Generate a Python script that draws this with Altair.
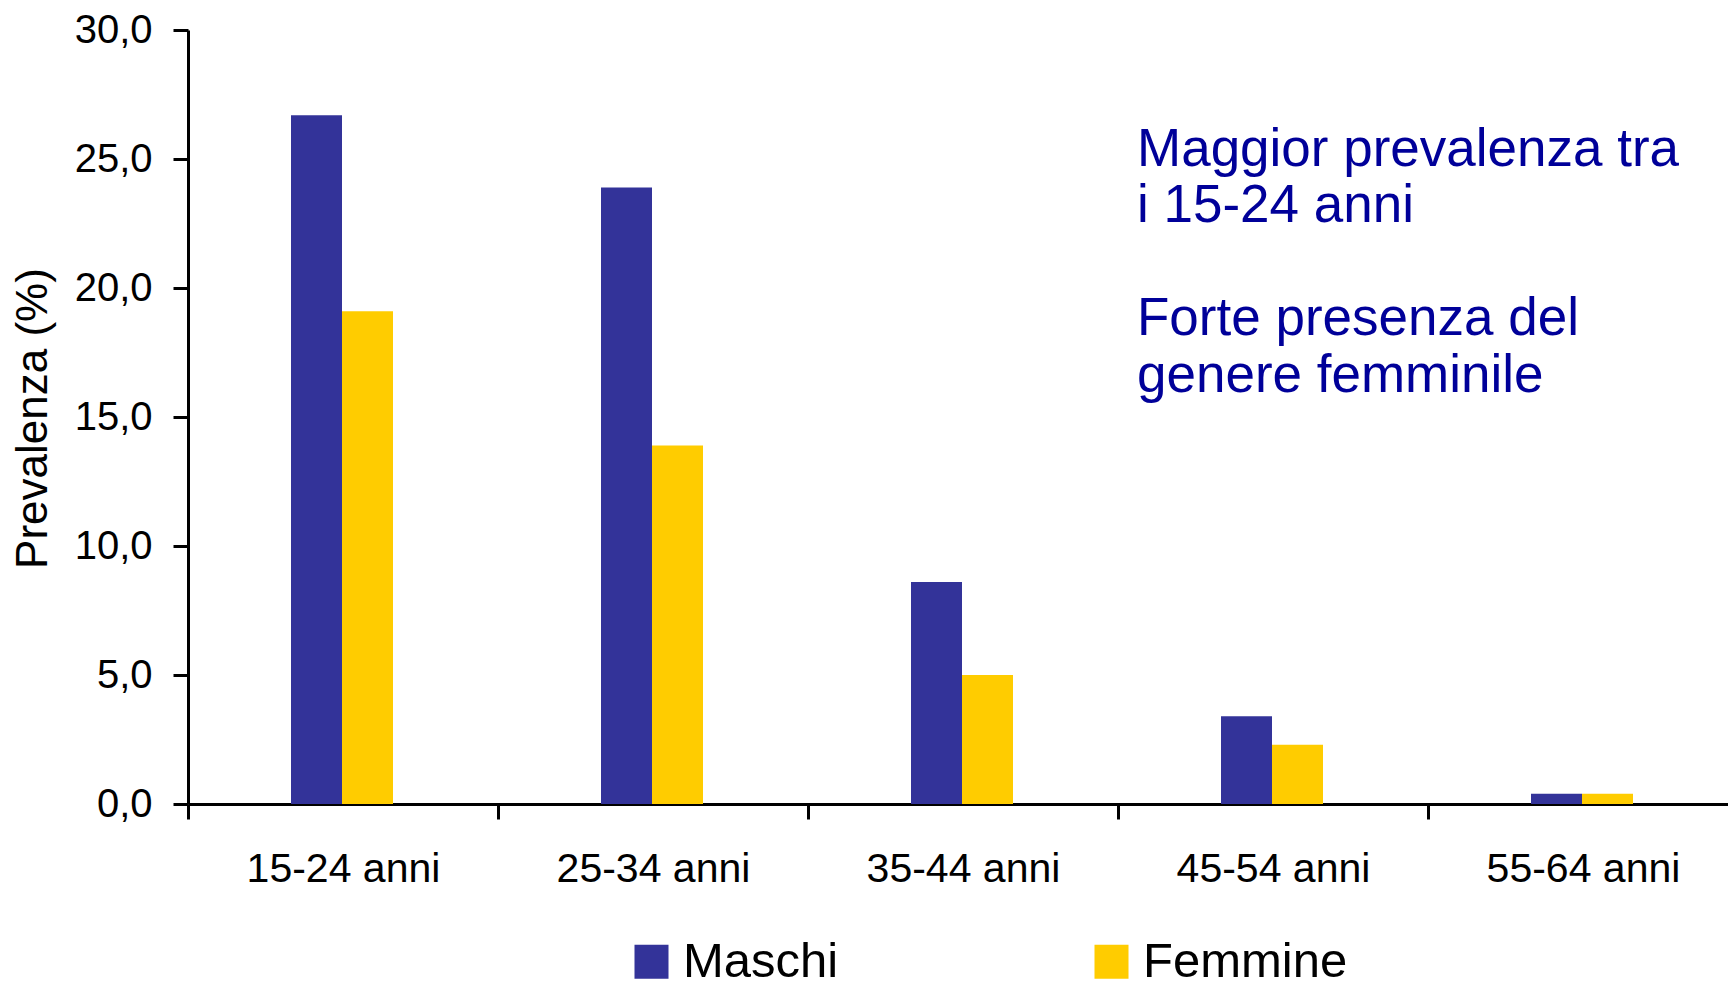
import altair as alt
import pandas as pd

FONT = "Liberation Sans, Arial, sans-serif"

categories = ["15-24 anni", "25-34 anni", "35-44 anni", "45-54 anni", "55-64 anni"]
series = ["Maschi", "Femmine"]
maschi = [26.7, 23.9, 8.6, 3.4, 0.4]
femmine = [19.1, 13.9, 5.0, 2.3, 0.4]
colors = ["#333399", "#FFCC00"]
y_ticks = [0, 5, 10, 15, 20, 25, 30]
note_block_1 = ["Maggior prevalenza tra", "i 15-24 anni"]
note_block_2 = ["Forte presenza del", "genere femminile"]

df = pd.DataFrame({
    "Età": categories * 2,
    "Genere": [series[0]] * len(categories) + [series[1]] * len(categories),
    "Prevalenza": maschi + femmine,
})

bars = alt.Chart(df).mark_bar().encode(
    x=alt.X(
        "Età:N", sort=categories,
        scale=alt.Scale(paddingInner=0, paddingOuter=0, range=[0, 1550]),
        axis=alt.Axis(
            title=None, labelAngle=0, tickBand="extent", labelLimit=0,
            labelFontSize=41, labelFont=FONT, labelColor="black", labelPadding=30,
            tickSize=15, tickWidth=3, tickColor="black",
            domainWidth=3, domainColor="black", grid=False,
        ),
    ),
    xOffset=alt.XOffset(
        "Genere:N", sort=series,
        scale=alt.Scale(paddingInner=0, paddingOuter=0, range=[103, 205]),
    ),
    y=alt.Y(
        "Prevalenza:Q",
        scale=alt.Scale(domain=[0, 30], nice=False, zero=True),
        axis=alt.Axis(
            values=y_ticks,
            labelExpr="replace(format(datum.value, '.1f'), '.', ',')",
            title="Prevalenza (%)", titleFontSize=44, titleFont=FONT, titleFontWeight="normal",
            titleColor="black", titleX=-155, titleY=388, titleAngle=270,
            titleAlign="center", titleBaseline="middle",
            labelFontSize=40, labelFont=FONT, labelColor="black", labelPadding=21,
            tickSize=15, tickWidth=3, tickColor="black",
            domainWidth=3, domainColor="black", grid=False,
        ),
    ),
    color=alt.Color(
        "Genere:N", sort=series,
        scale=alt.Scale(domain=series, range=colors),
        legend=alt.Legend(
            title=None, orient="none", legendX=439, legendY=907,
            direction="horizontal",
            symbolType="square", symbolSize=1156,
            symbolStrokeWidth=0, symbolOpacity=1,
            labelFontSize=49, labelFont=FONT, labelColor="black", labelLimit=0,
            labelOffset=7, columnPadding=248, padding=0,
        ),
    ),
)

note1 = alt.Chart(alt.Data(values=[{}])).mark_text(
    text=note_block_1, align="left", baseline="alphabetic",
    fontSize=53, lineHeight=56, color="#000099", font=FONT,
).encode(x=alt.value(949), y=alt.value(136))

note2 = alt.Chart(alt.Data(values=[{}])).mark_text(
    text=note_block_2, align="left", baseline="alphabetic",
    fontSize=53, lineHeight=57, color="#000099", font=FONT,
).encode(x=alt.value(949), y=alt.value(305))

chart = alt.layer(bars, note1, note2).properties(
    width=1540, height=774,
    padding={"left": 180, "top": 22, "right": 0, "bottom": 184},
    autosize=alt.AutoSizeParams(type="none"),
).configure_view(stroke=None)

chart.save("out.html", embed_options={"renderer": "svg", "actions": False})
